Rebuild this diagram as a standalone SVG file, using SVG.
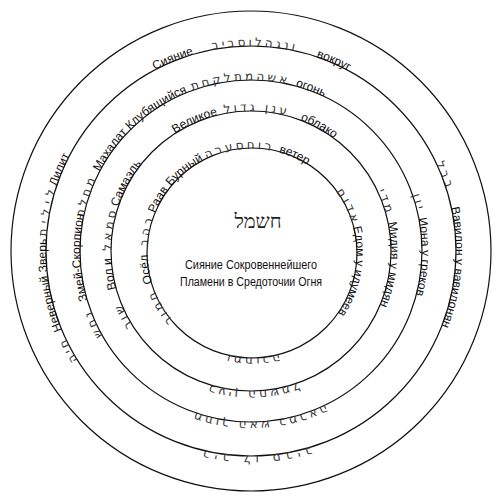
<svg xmlns="http://www.w3.org/2000/svg" xmlns:xlink="http://www.w3.org/1999/xlink" width="504" height="501" viewBox="0 0 504 501">
<style>
.ring{fill:none;stroke:#111;stroke-width:1.2}
.ru{font-family:"Liberation Sans",Arial,sans-serif;font-size:12px;fill:#111}
.he{font-family:"DejaVu Sans","Liberation Sans",sans-serif;font-size:12px;fill:#333;letter-spacing:3px}
.hw{letter-spacing:5px}
.ctr{font-family:"Liberation Sans",Arial,sans-serif;font-size:12px;fill:#111}
.heb{font-family:"Liberation Serif","DejaVu Serif",serif;font-size:20px;fill:#222}
</style>
<defs>
<path id="p1" d="M332.43,320.49 A105,105 0 0 1 171.57,185.51 A105,105 0 0 1 332.43,320.49"/>
<path id="p2" d="M358.25,340.99 A140,140 0 0 1 143.75,161.01 A140,140 0 0 1 358.25,340.99"/>
<path id="p3" d="M381.99,360.92 A171,171 0 0 1 120.01,141.08 A171,171 0 0 1 381.99,360.92"/>
<path id="p4" d="M408.04,382.77 A205,205 0 0 1 93.96,119.23 A205,205 0 0 1 408.04,382.77"/>
</defs>
<rect width="504" height="501" fill="#fff"/>
<g id="connectors">
<circle class="ring" cx="252" cy="253" r="105"/>
<circle class="ring" cx="251" cy="251" r="140"/>
<circle class="ring" cx="251" cy="251" r="171"/>
<circle class="ring" cx="251" cy="251" r="205"/>
<circle class="ring" cx="251" cy="251" r="240"/>
</g>
<g id="center">
<text class="heb" x="258" y="228" text-anchor="middle">חשמל</text>
<text class="ctr" x="251" y="269" text-anchor="middle" textLength="132" lengthAdjust="spacingAndGlyphs">Сияние Сокровеннейшего</text>
<text class="ctr" x="251" y="286" text-anchor="middle" textLength="142" lengthAdjust="spacingAndGlyphs">Пламени в Средоточии Огня</text>
</g>
<g id="ring1">
<text class="ru" text-anchor="middle"><textPath xlink:href="#p1" startOffset="53.03%">Бурный</textPath></text>
<text class="he" text-anchor="middle"><textPath xlink:href="#p1" startOffset="61.97%">רוחסערה</textPath></text>
<text class="ru" text-anchor="middle"><textPath xlink:href="#p1" startOffset="70.42%">ветер</textPath></text>
<text class="ru" text-anchor="middle"><textPath xlink:href="#p1" startOffset="47.1%">Раав</textPath></text>
<text class="he" text-anchor="middle"><textPath xlink:href="#p1" startOffset="42.2%">רהב</textPath></text>
<text class="ru" text-anchor="middle"><textPath xlink:href="#p1" startOffset="36.4%">Осёл</textPath></text>
<text class="he" text-anchor="middle"><textPath xlink:href="#p1" startOffset="30.4%">חמור</textPath></text>
<text class="he" text-anchor="middle"><textPath xlink:href="#p1" startOffset="81.75%">אדום</textPath></text>
<text class="ru" text-anchor="middle"><textPath xlink:href="#p1" startOffset="91.72%">Едом у идумеев</textPath></text>
<text class="he" text-anchor="middle"><textPath xlink:href="#p1" startOffset="13.89%">ומתוכה</textPath></text>
</g>
<g id="ring2">
<text class="ru" text-anchor="middle"><textPath xlink:href="#p2" startOffset="57.4%">Великое</textPath></text>
<text class="he" text-anchor="middle"><textPath xlink:href="#p2" startOffset="64.53%">ענן גדול</textPath></text>
<text class="ru" text-anchor="middle"><textPath xlink:href="#p2" startOffset="71.81%">облако</textPath></text>
<text class="ru" text-anchor="middle"><textPath xlink:href="#p2" startOffset="46.8%">Самаэль</textPath></text>
<text class="he" text-anchor="middle"><textPath xlink:href="#p2" startOffset="41.33%">סמאל</textPath></text>
<text class="ru" text-anchor="middle"><textPath xlink:href="#p2" startOffset="36.31%">Вол и</textPath></text>
<text class="he" text-anchor="middle"><textPath xlink:href="#p2" startOffset="31.4%">שור</textPath></text>
<text class="he" text-anchor="middle"><textPath xlink:href="#p2" startOffset="83.36%">מדי</textPath></text>
<text class="ru" text-anchor="middle"><textPath xlink:href="#p2" startOffset="90.44%">Мидия у мидян</textPath></text>
<text class="he" text-anchor="middle"><textPath xlink:href="#p2" startOffset="13.67%">כעין החשמל</textPath></text>
</g>
<g id="ring3">
<text class="ru" text-anchor="middle"><textPath xlink:href="#p3" startOffset="48.8%">Махалат</textPath></text>
<text class="ru" text-anchor="middle"><textPath xlink:href="#p3" startOffset="54.6%">Клубящийся</textPath></text>
<text class="he" text-anchor="middle"><textPath xlink:href="#p3" startOffset="62.9%">אשהמתלקחת</textPath></text>
<text class="ru" text-anchor="middle"><textPath xlink:href="#p3" startOffset="69.5%">огонь</textPath></text>
<text class="he" text-anchor="middle"><textPath xlink:href="#p3" startOffset="84.42%">יון</textPath></text>
<text class="ru" text-anchor="middle"><textPath xlink:href="#p3" startOffset="89.42%">Иона у греков</textPath></text>
<text class="he" text-anchor="middle"><textPath xlink:href="#p3" startOffset="44.0%">מחלת</textPath></text>
<text class="ru" text-anchor="middle"><textPath xlink:href="#p3" startOffset="38.28%">Змей-Скорпион</textPath></text>
<text class="he" text-anchor="middle"><textPath xlink:href="#p3" startOffset="32.0%">נחש</textPath></text>
<text class="he" text-anchor="middle"><textPath xlink:href="#p3" startOffset="13.08%">מתוך האש כמראה</textPath></text>
</g>
<g id="ring4">
<text class="ru" text-anchor="middle"><textPath xlink:href="#p4" startOffset="57.75%">Сияние</textPath></text>
<text class="he" text-anchor="middle"><textPath xlink:href="#p4" startOffset="64.19%">ונגהלוסביב</textPath></text>
<text class="ru" text-anchor="middle"><textPath xlink:href="#p4" startOffset="70.42%">вокруг</textPath></text>
<text class="he" text-anchor="middle"><textPath xlink:href="#p4" startOffset="83.0%">בבל</textPath></text>
<text class="ru" text-anchor="middle"><textPath xlink:href="#p4" startOffset="90.17%">Вавилон у вавилонян</textPath></text>
<text class="ru" text-anchor="middle"><textPath xlink:href="#p4" startOffset="45.3%">Лилит</textPath></text>
<text class="he hw" text-anchor="middle"><textPath xlink:href="#p4" startOffset="42.0%">לילית</textPath></text>
<text class="ru" text-anchor="middle"><textPath xlink:href="#p4" startOffset="36.2%">Неверный Зверь</textPath></text>
<text class="he" text-anchor="middle"><textPath xlink:href="#p4" startOffset="31.0%">חיה</textPath></text>
<text class="he hw" text-anchor="middle"><textPath xlink:href="#p4" startOffset="13.58%">ביב לו סביב</textPath></text>
</g>
</svg>
